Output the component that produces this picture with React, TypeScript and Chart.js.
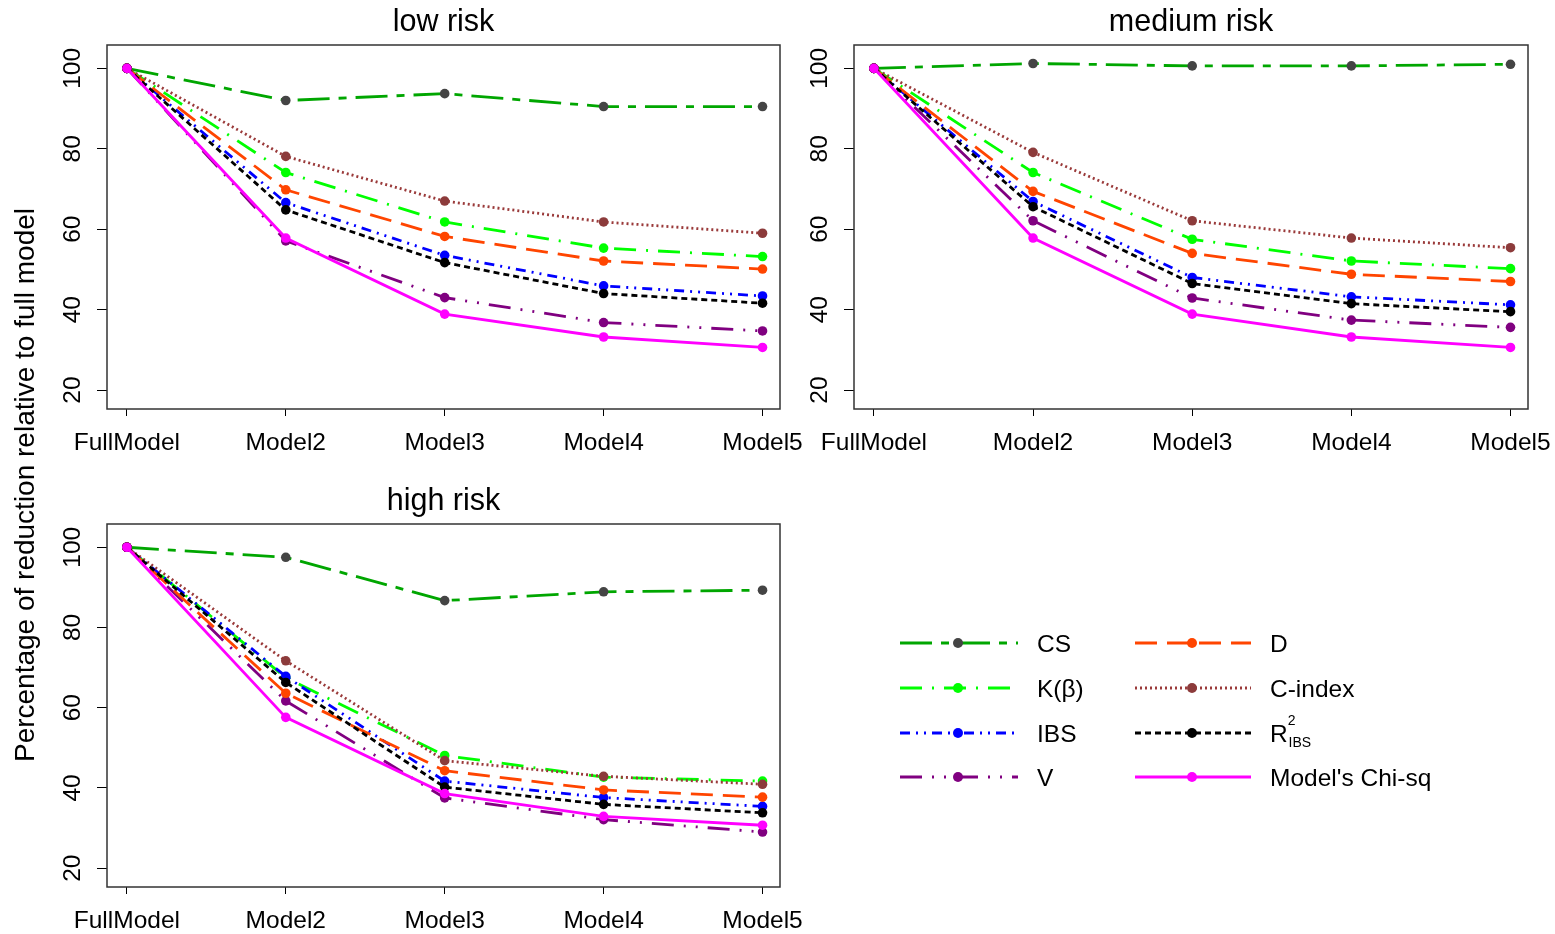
import React, { useEffect, useRef } from "react";
import { Chart, registerables } from "chart.js";

Chart.register(...registerables);

const categories = ["FullModel", "Model2", "Model3", "Model4", "Model5"];
const yTickValues = [20, 40, 60, 80, 100];

const seriesNames = ["CS", "K(β)", "IBS", "V", "D", "C-index", "R2IBS", "Model's Chi-sq"];

// low risk
const lowCS = [100, 92.0, 93.7, 90.5, 90.5];
const lowK = [100, 74.1, 61.8, 55.3, 53.2];
const lowIBS = [100, 66.6, 53.5, 45.9, 43.4];
const lowV = [100, 57.1, 43.0, 36.8, 34.7];
const lowD = [100, 69.8, 58.2, 52.1, 50.1];
const lowCindex = [100, 78.1, 67.0, 61.8, 59.0];
const lowR2IBS = [100, 64.8, 51.7, 44.0, 41.6];
const lowChi = [100, 57.8, 38.9, 33.2, 30.6];

// medium risk
const medCS = [100, 101.2, 100.6, 100.6, 101.0];
const medK = [100, 74.1, 57.5, 52.1, 50.2];
const medIBS = [100, 66.9, 48.0, 43.2, 41.2];
const medV = [100, 62.1, 42.9, 37.4, 35.6];
const medD = [100, 69.4, 54.0, 48.8, 47.0];
const medCindex = [100, 79.1, 62.1, 57.8, 55.4];
const medR2IBS = [100, 65.6, 46.5, 41.5, 39.5];
const medChi = [100, 57.8, 38.9, 33.2, 30.6];

// high risk
const highCS = [100, 97.5, 86.7, 88.9, 89.3];
const highK = [100, 67.5, 48.1, 42.7, 41.7];
const highIBS = [100, 67.8, 41.7, 37.6, 35.4];
const highV = [100, 61.7, 37.5, 32.1, 29.0];
const highD = [100, 63.6, 44.3, 39.5, 37.7];
const highCindex = [100, 71.7, 46.8, 42.9, 40.9];
const highR2IBS = [100, 66.3, 40.2, 35.9, 33.8];
const highChi = [100, 57.6, 38.6, 32.9, 30.7];

const FONT = "'Liberation Sans', Arial, Helvetica, sans-serif";
const TICK_SIZE = 24.5;

type Style = { line: string; point: string; dash: number[] };
const styles: Style[] = [
  { line: "#00A600", point: "#444444", dash: [32, 9, 8, 9] },
  { line: "#00FF00", point: "#00FF00", dash: [22, 10, 2, 10] },
  { line: "#0000FF", point: "#0000FF", dash: [10, 6, 2, 6, 2, 6] },
  { line: "#800080", point: "#800080", dash: [22, 10, 2, 10, 2, 10] },
  { line: "#FF4500", point: "#FF4500", dash: [22, 10] },
  { line: "#9A3A3A", point: "#8C3B3B", dash: [2, 3] },
  { line: "#000000", point: "#000000", dash: [6, 4] },
  { line: "#FF00FF", point: "#FF00FF", dash: [] },
];

const boxPlugin = {
  id: "rbox",
  afterDatasetsDraw(chart: any) {
    const { ctx, chartArea } = chart;
    ctx.save();
    ctx.strokeStyle = "#333333";
    ctx.lineWidth = 1.5;
    ctx.strokeRect(chartArea.left, chartArea.top, chartArea.right - chartArea.left, chartArea.bottom - chartArea.top);
    ctx.restore();
  },
};

type PanelProps = {
  left: number;
  top: number;
  width: number;
  height: number;
  yAxisWidth: number;
  xAxisHeight: number;
  rightPad: number;
  title: string;
  series: number[][];
};

function Panel(props: PanelProps) {
  const ref = useRef<HTMLCanvasElement | null>(null);
  useEffect(() => {
    if (!ref.current) return;
    const datasets = props.series.map((vals, i) => ({
      label: seriesNames[i],
      data: vals.map((v, j) => ({ x: j, y: v })),
      borderColor: styles[i].line,
      backgroundColor: styles[i].point,
      pointBackgroundColor: styles[i].point,
      pointBorderColor: styles[i].point,
      pointRadius: 4.8,
      pointBorderWidth: 0,
      borderWidth: 2.8,
      borderDash: styles[i].dash,
      tension: 0,
      fill: false,
      order: props.series.length - 1 - i,
    }));
    const chart = new Chart(ref.current, {
      type: "line",
      data: { datasets },
      options: {
        animation: false,
        responsive: false,
        maintainAspectRatio: false,
        layout: { padding: { left: 0, right: props.rightPad, top: 0, bottom: 0 } },
        plugins: {
          legend: { display: false },
          tooltip: { enabled: false },
          title: {
            display: true,
            text: props.title,
            fullSize: false,
            color: "#000",
            font: { family: FONT, size: 30.5, weight: "normal", lineHeight: 1.2 },
            padding: { top: 4, bottom: 4.4 },
          },
        },
        scales: {
          x: {
            type: "linear",
            min: -0.125,
            max: 4.11,
            afterBuildTicks: (s: any) => {
              s.ticks = categories.map((_, i) => ({ value: i }));
            },
            afterFit: (s: any) => {
              s.height = props.xAxisHeight;
            },
            ticks: {
              callback: (v: any) => categories[v as number] ?? "",
              color: "#000",
              font: { family: FONT, size: TICK_SIZE },
              padding: 13,
              maxRotation: 0,
              minRotation: 0,
              autoSkip: false,
            },
            grid: { display: true, drawOnChartArea: false, drawTicks: true, tickLength: 7, color: "#000", lineWidth: 1 },
            border: { display: false },
          },
          y: {
            type: "linear",
            min: 15.3,
            max: 105.8,
            afterBuildTicks: (s: any) => {
              s.ticks = yTickValues.map((v) => ({ value: v }));
            },
            afterFit: (s: any) => {
              s.width = props.yAxisWidth;
            },
            ticks: {
              color: "#000",
              font: { family: FONT, size: TICK_SIZE },
              minRotation: 90,
              maxRotation: 90,
              crossAlign: "center",
              padding: 3,
            },
            grid: { display: true, drawOnChartArea: false, drawTicks: true, tickLength: 10, color: "#000", lineWidth: 1 },
            border: { display: false },
          },
        },
      } as any,
      plugins: [boxPlugin],
    });
    return () => chart.destroy();
  }, []);
  return (
    <canvas
      ref={ref}
      width={props.width}
      height={props.height}
      style={{ position: "absolute", left: props.left, top: props.top, width: props.width, height: props.height }}
    />
  );
}

type LegendRow = { name: string; idx: number; x1: number; x2: number; mx: number; tx: number; y: number };
const legendRows: LegendRow[] = [
  { name: "CS", idx: 0, x1: 900, x2: 1018, mx: 958, tx: 1037, y: 643 },
  { name: "K(β)", idx: 1, x1: 900, x2: 1018, mx: 958, tx: 1037, y: 688 },
  { name: "IBS", idx: 2, x1: 900, x2: 1018, mx: 958, tx: 1037, y: 733 },
  { name: "V", idx: 3, x1: 900, x2: 1018, mx: 958, tx: 1037, y: 777 },
  { name: "D", idx: 4, x1: 1135, x2: 1251, mx: 1192, tx: 1270, y: 643 },
  { name: "C-index", idx: 5, x1: 1135, x2: 1251, mx: 1192, tx: 1270, y: 688 },
  { name: "R2IBS", idx: 6, x1: 1135, x2: 1251, mx: 1192, tx: 1270, y: 733 },
  { name: "Model's Chi-sq", idx: 7, x1: 1135, x2: 1251, mx: 1192, tx: 1270, y: 777 },
];

function Legend() {
  return (
    <svg width={1555} height={934} style={{ position: "absolute", left: 0, top: 0, pointerEvents: "none" }}>
      {legendRows.map((r) => {
        const st = styles[r.idx];
        return (
          <g key={r.name}>
            <line
              x1={r.x1}
              x2={r.x2}
              y1={r.y}
              y2={r.y}
              stroke={st.line}
              strokeWidth={2.8}
              strokeDasharray={st.dash.length ? st.dash.join(" ") : undefined}
            />
            <circle cx={r.mx} cy={r.y} r={5} fill={st.point} />
            {r.name === "R2IBS" ? (
              <text x={r.tx} y={r.y + 9} fontFamily={FONT} fontSize={TICK_SIZE} fill="#000">
                R
                <tspan fontSize={14} dy={-17}>2</tspan>
                <tspan fontSize={14} dx={-7} dy={22}>IBS</tspan>
              </text>
            ) : (
              <text x={r.tx} y={r.y + 9} fontFamily={FONT} fontSize={TICK_SIZE} fill="#000">
                {r.name}
              </text>
            )}
          </g>
        );
      })}
    </svg>
  );
}

export default function App() {
  return (
    <div style={{ position: "absolute", left: 0, top: 0, width: 1555, height: 934, overflow: "hidden", background: "#fff" }}>
      <Panel
        left={0}
        top={0}
        width={830}
        height={455}
        yAxisWidth={107}
        xAxisHeight={46}
        rightPad={50}
        title="low risk"
        series={[lowCS, lowK, lowIBS, lowV, lowD, lowCindex, lowR2IBS, lowChi]}
      />
      <Panel
        left={747}
        top={0}
        width={831}
        height={455}
        yAxisWidth={107}
        xAxisHeight={46}
        rightPad={50}
        title="medium risk"
        series={[medCS, medK, medIBS, medV, medD, medCindex, medR2IBS, medChi]}
      />
      <Panel
        left={0}
        top={479}
        width={830}
        height={455}
        yAxisWidth={107}
        xAxisHeight={47}
        rightPad={50}
        title="high risk"
        series={[highCS, highK, highIBS, highV, highD, highCindex, highR2IBS, highChi]}
      />
      <Legend />
      <div
        style={{
          position: "absolute",
          left: 25,
          top: 485,
          transform: "translate(-50%, -50%) rotate(-90deg)",
          whiteSpace: "nowrap",
          fontFamily: FONT,
          fontSize: 28,
          color: "#000",
        }}
      >
        Percentage of reduction relative to full model
      </div>
    </div>
  );
}
